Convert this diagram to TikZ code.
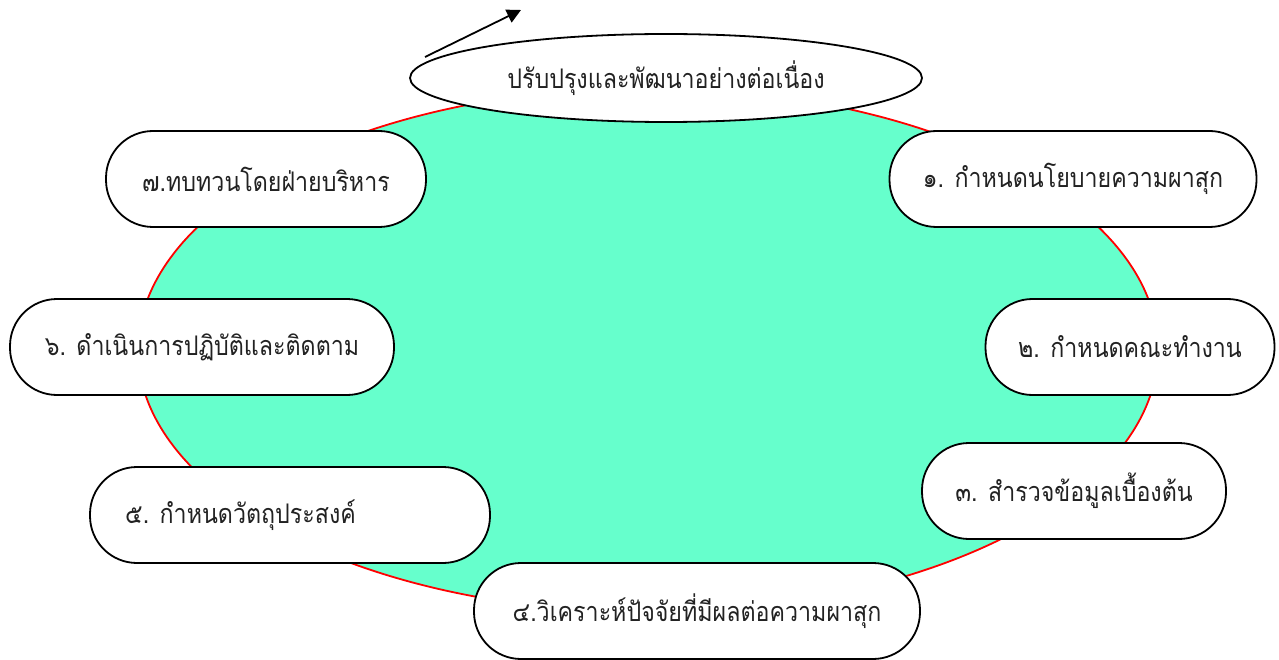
\documentclass[tikz,border=0pt]{standalone}
\usepackage{fontspec}
\newfontfamily\thaifont[Script=Thai, FakeStretch=0.86]{Loma}
\usetikzlibrary{arrows.meta,shapes.geometric}
\definecolor{mint}{HTML}{66FFCC}
\definecolor{ink}{HTML}{222222}
\tikzset{
  thaitext/.style={text=ink, font=\thaifont\fontsize{27}{31}\selectfont},
  pill/.style={draw=black, line width=1.8pt, fill=white, rounded corners=47pt,
    minimum height=96pt, inner sep=0pt, thaitext},
}
\begin{document}
\begin{tikzpicture}[x=1pt,y=-1pt]
\useasboundingbox (0,0) rectangle (1279,660);
\node[ellipse, draw=red, line width=1.8pt, fill=mint, minimum width=1020pt, minimum height=524pt, inner sep=0pt] (big) at (648,350) {};
\node[pill, minimum width=320pt] (s7) at (266,179) {๗.ทบทวนโดยฝ่ายบริหาร};
\node[pill, minimum width=367pt] (s1) at (1073,179) {๑. กำหนดนโยบายความผาสุก};
\node[pill, minimum width=384pt] (s6) at (202,347) {๖. ดำเนินการปฏิบัติและติดตาม};
\node[pill, minimum width=289pt] (s2) at (1130,347) {๒. กำหนดคณะทำงาน};
\node[pill, minimum width=304pt] (s3) at (1074,491) {๓. สำรวจข้อมูลเบื้องต้น};
\node[pill, minimum width=400pt] (s5) at (290,515) {};
\node[thaitext, anchor=west, inner sep=0pt] (t5) at (125,515) {๕. กำหนดวัตถุประสงค์};
\node[pill, minimum width=446pt] (s4) at (697,611) {๔.วิเคราะห์ปัจจัยที่มีผลต่อความผาสุก};
\node[ellipse, draw=black, line width=1.8pt, fill=white, minimum width=512pt, minimum height=88pt, inner sep=0pt, thaitext] (top) at (666,78) {ปรับปรุงและพัฒนาอย่างต่อเนื่อง};
\coordinate (tail) at (425,57);
\coordinate (tip) at (521,10);
\draw[line width=1.8pt, -{Triangle[length=14pt,width=14pt]}] (tail) -- (tip);
\end{tikzpicture}
\end{document}
